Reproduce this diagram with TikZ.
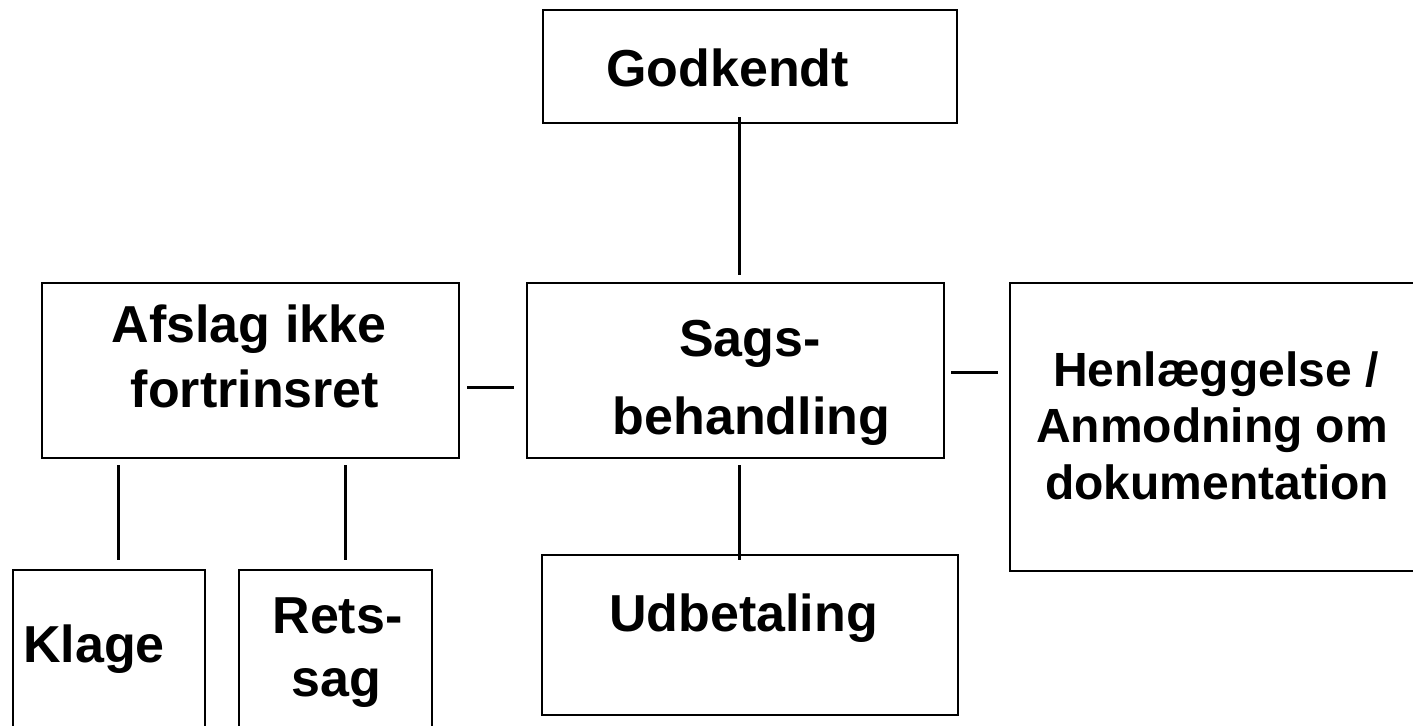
\documentclass[tikz,border=0pt]{standalone}
\usepackage{fontspec}
\setmainfont{Liberation Sans}
\usetikzlibrary{calc}
\tikzstyle{blk}=[rectangle, draw=black, line width=1.3pt, inner sep=0pt]
\tikzstyle{txt}=[anchor=base, inner sep=0pt, font=\bfseries\fontsize{26}{30}\selectfont]
\tikzstyle{txtsm}=[txt, font=\bfseries\fontsize{24}{28}\selectfont]
\tikzstyle{lnk}=[line width=1.5pt]

\begin{document}
\begin{tikzpicture}[x=0.5pt,y=-0.5pt]
\useasboundingbox (0,0) rectangle (1413,726);
\clip (0,0) rectangle (1413,726);
% boxes
\node[blk, minimum width=207pt, minimum height=56.5pt] (godk) at (750,66.5) {};
\node[blk, minimum width=208.5pt, minimum height=87.5pt] (afsl) at (250.5,370.5) {};
\node[blk, minimum width=208.5pt, minimum height=87.5pt] (sags) at (735.5,370.5) {};
\node[blk, minimum width=206pt, minimum height=144pt] (henl) at (1216,427) {};
\node[blk, minimum width=96pt, minimum height=85pt] (klag) at (109,655) {};
\node[blk, minimum width=96.5pt, minimum height=85pt] (rets) at (335.5,655) {};
\node[blk, minimum width=208pt, minimum height=80pt] (udb) at (750,635) {};
% texts
\node[txt] (godk1) at (727.5,87) {Godkendt};
\node[txt] (afsl1) at (249,343) {Afslag ikke};
\node[txt] (afsl2) at (255,408) {fortrinsret};
\node[txt] (sags1) at (750,357) {Sags-};
\node[txt] (sags2) at (751.5,435) {behandling};
\node[txtsm] (henl1) at (1216,387) {Henlæggelse /};
\node[txtsm] (henl2) at (1212,443) {Anmodning om};
\node[txtsm] (henl3) at (1217,500) {dokumentation};
\node[txt] (klag1) at (94,662) {Klage};
\node[txt] (rets1) at (337.5,633) {Rets-};
\node[txt] (rets2) at (336,696) {sag};
\node[txt] (udb1) at (743.5,632) {Udbetaling};
% connectors
\draw[lnk] ($(godk.south)+(-11,-7)$) -- ($(sags.north)+(3.5,-7)$);
\draw[lnk] ($(afsl.east)+(7,17.5)$) -- ($(sags.west)+(-12,17.5)$);
\draw[lnk] ($(sags.east)+(6,2.5)$) -- ($(henl.west)+(-11,-54)$);
\draw[lnk] ($(afsl.south)+(-132.5,6)$) -- ($(klag.north)+(9,-9)$);
\draw[lnk] ($(afsl.south)+(94.5,6)$) -- ($(rets.north)+(9.5,-9)$);
\draw[lnk] ($(sags.south)+(3.5,6)$) -- ($(udb.north)+(-11,6)$);
\end{tikzpicture}
\end{document}
